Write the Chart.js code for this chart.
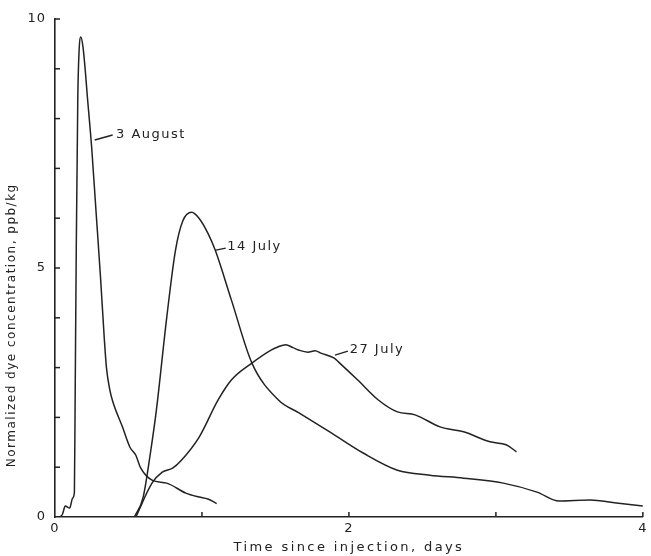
<!DOCTYPE html>
<html>
<head>
<meta charset="utf-8">
<script src="https://cdn.jsdelivr.net/npm/chart.js@4.4.1/dist/chart.umd.min.js"></script>
<style>
  html,body{margin:0;padding:0;background:#ffffff;}
  #wrap{width:651px;height:556px;position:relative;}
</style>
</head>
<body>
<div id="wrap"><canvas id="c" width="651" height="556"></canvas></div>
<script>
// ---- data ----
const aug3X = [0.03, 0.05, 0.07, 0.10, 0.12, 0.132, 0.137, 0.145, 0.155, 0.163, 0.176, 0.19, 0.205, 0.22, 0.25, 0.28, 0.31, 0.335, 0.35, 0.37, 0.39, 0.46, 0.51, 0.55, 0.58, 0.66, 0.76, 0.89, 0.98, 1.04, 1.10];
const aug3Y = [0.0, 0.05, 0.22, 0.18, 0.38, 0.5, 2.35, 5.5, 8.4, 9.3, 9.64, 9.45, 9.0, 8.45, 7.4, 6.1, 4.8, 3.6, 3.0, 2.6, 2.35, 1.8, 1.4, 1.24, 1.0, 0.74, 0.68, 0.48, 0.40, 0.36, 0.27];

const jul14X = [0.54, 0.60, 0.65, 0.69, 0.76, 0.82, 0.87, 0.93, 0.98, 1.04, 1.09, 1.20, 1.34, 1.52, 1.66, 1.88, 2.10, 2.33, 2.55, 2.78, 3.05, 3.28, 3.43, 3.64, 3.82, 4.00];
const jul14Y = [0.0, 0.4, 1.3, 2.15, 4.0, 5.36, 5.95, 6.12, 6.0, 5.7, 5.36, 4.36, 3.09, 2.35, 2.09, 1.69, 1.28, 0.94, 0.84, 0.78, 0.68, 0.50, 0.32, 0.34, 0.28, 0.22];

const jul27X = [0.55, 0.66, 0.73, 0.80, 0.86, 0.98, 1.11, 1.20, 1.34, 1.47, 1.52, 1.57, 1.62, 1.66, 1.72, 1.77, 1.81, 1.90, 1.93, 2.06, 2.20, 2.33, 2.45, 2.62, 2.78, 2.96, 3.07, 3.14];
const jul27Y = [0.0, 0.68, 0.9, 0.98, 1.14, 1.6, 2.35, 2.75, 3.09, 3.35, 3.42, 3.46, 3.40, 3.35, 3.31, 3.34, 3.29, 3.19, 3.11, 2.75, 2.35, 2.11, 2.05, 1.81, 1.71, 1.51, 1.45, 1.31];

const seriesNames = ['3 August', '14 July', '27 July'];
// leader line start / end and text start, in data units
const labelAnchors = [
  {x0: 0.27, y0: 7.57, x1: 0.392, y1: 7.67, tx: 0.415, ty: 7.67},
  {x0: 1.095, y0: 5.36, x1: 1.162, y1: 5.40, tx: 1.172, ty: 5.42},
  {x0: 1.905, y0: 3.25, x1: 1.993, y1: 3.33, tx: 2.005, ty: 3.37}
];
const xTickLabels = [0, 2, 4];
const yTickLabels = [0, 5, 10];
const xTitle = 'Time since injection, days';
const yTitle = 'Normalized dye concentration, ppb/kg';

const INK = '#222222';
const FONT = "'DejaVu Sans', sans-serif";

function pts(xs, ys){ return xs.map((x,i)=>({x:x, y:ys[i]})); }

const spacing = {
  id:'spacing',
  beforeDraw(chart){ chart.ctx.letterSpacing = '1px'; }
};

const extras = {
  id:'extras',
  afterDraw(chart){
    const ctx = chart.ctx, xs = chart.scales.x, ys = chart.scales.y;
    ctx.save();
    ctx.strokeStyle = INK; ctx.fillStyle = INK; ctx.lineWidth = 1.5;
    // inward tick marks
    for (let v = 1; v <= 4; v++){
      const px = xs.getPixelForValue(v);
      ctx.beginPath(); ctx.moveTo(px, ys.bottom); ctx.lineTo(px, ys.bottom - 5); ctx.stroke();
    }
    for (let v = 1; v <= 10; v++){
      const py = ys.getPixelForValue(v);
      ctx.beginPath(); ctx.moveTo(xs.left, py); ctx.lineTo(xs.left + 5, py); ctx.stroke();
    }
    // series labels with leaders
    ctx.lineWidth = 1.4;
    ctx.font = '13px ' + FONT;
    ctx.letterSpacing = '1.5px';
    ctx.textBaseline = 'middle'; ctx.textAlign = 'left';
    labelAnchors.forEach((a,i)=>{
      ctx.beginPath();
      ctx.moveTo(xs.getPixelForValue(a.x0), ys.getPixelForValue(a.y0));
      ctx.lineTo(xs.getPixelForValue(a.x1), ys.getPixelForValue(a.y1));
      ctx.stroke();
      ctx.fillText(seriesNames[i], xs.getPixelForValue(a.tx), ys.getPixelForValue(a.ty));
    });
    // x title
    ctx.textAlign = 'center';
    ctx.letterSpacing = '2.4px';
    ctx.fillText(xTitle, xs.getPixelForValue(2), 548);
    // y title
    ctx.letterSpacing = '1.5px';
    ctx.font = '12px ' + FONT;
    ctx.translate(12, ys.getPixelForValue(3.85));
    ctx.rotate(-Math.PI/2);
    ctx.fillText(yTitle, 0, 0);
    ctx.restore();
  }
};

const lineStyle = {borderColor: INK, borderWidth: 1.5, pointRadius: 0, fill: false, cubicInterpolationMode: 'monotone'};

new Chart(document.getElementById('c'), {
  type: 'line',
  data: {
    datasets: [
      Object.assign({label: seriesNames[0], data: pts(aug3X, aug3Y)}, lineStyle),
      Object.assign({label: seriesNames[1], data: pts(jul14X, jul14Y)}, lineStyle),
      Object.assign({label: seriesNames[2], data: pts(jul27X, jul27Y)}, lineStyle)
    ]
  },
  options: {
    responsive: false,
    animation: false,
    devicePixelRatio: 1,
    layout: {padding: {left: 0, right: 3, top: 19, bottom: 0}},
    plugins: {legend: {display: false}, tooltip: {enabled: false}},
    scales: {
      x: {
        type: 'linear', min: 0, max: 4,
        grid: {display: false, drawTicks: false},
        border: {display: true, color: INK, width: 1.6},
        ticks: {
          stepSize: 1, autoSkip: false, maxRotation: 0, padding: 4,
          color: INK, font: {family: FONT, size: 13},
          callback: v => xTickLabels.includes(v) ? String(v) : ''
        },
        afterFit: s => { s.height = 39; }
      },
      y: {
        type: 'linear', min: 0, max: 10,
        grid: {display: false, drawTicks: false},
        border: {display: true, color: INK, width: 1.6},
        ticks: {
          stepSize: 1, autoSkip: false, padding: 9,
          color: INK, font: {family: FONT, size: 13},
          callback: v => yTickLabels.includes(v) ? String(v) : ''
        },
        afterFit: s => { s.width = 55; }
      }
    }
  },
  plugins: [spacing, extras]
});
</script>
</body>
</html>
